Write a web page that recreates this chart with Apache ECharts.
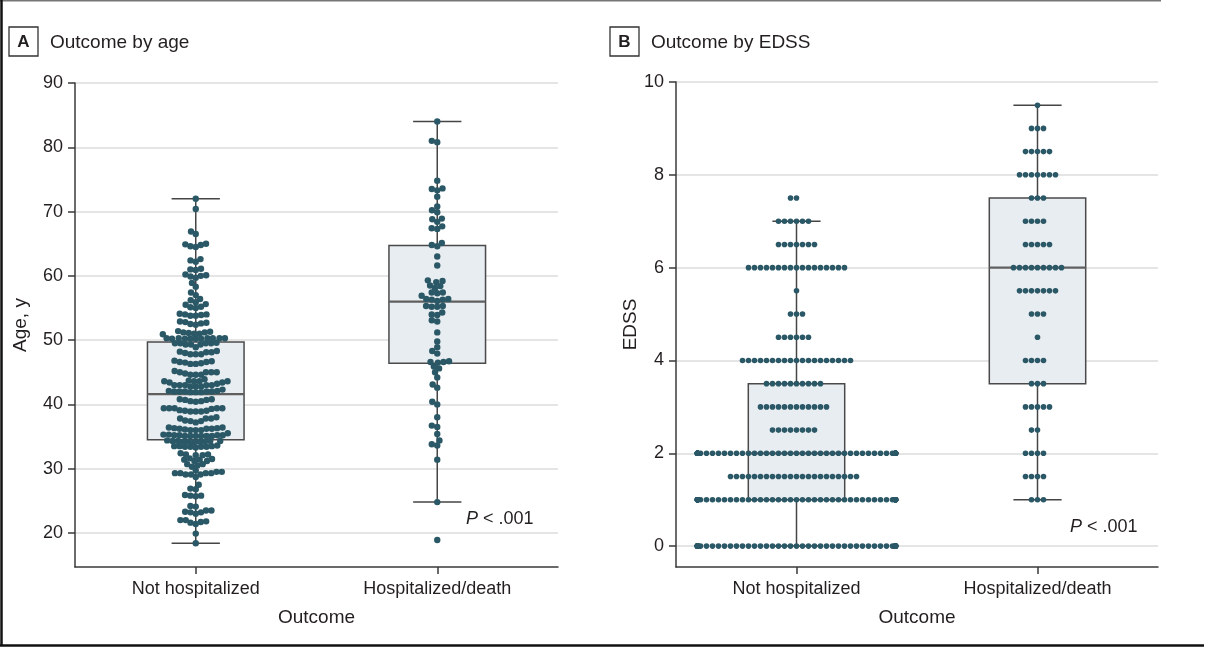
<!DOCTYPE html>
<html>
<head>
<meta charset="utf-8">
<script src="https://cdn.jsdelivr.net/npm/echarts@6/dist/echarts.min.js"></script>
<style>html,body{margin:0;padding:0;background:#fff}#c{width:1216px;height:649px}</style>
</head>
<body>
<div id="c"></div>
<script>
// ---------------- DATA ----------------
const categories = ['Not hospitalized', 'Hospitalized/death'];

// Panel A: ages (years)
const ageNotHosp = [
  72.0, 70.4, 66.9, 66.5, 64.9, 64.6, 64.5, 64.8, 65.0, 62.6, 62.2, 62.4, 61.1, 60.9, 61.0,
  60.0, 59.7, 59.9, 60.1, 60.2, 58.9, 58.3, 57.4, 57.0, 56.4, 56.2,
  55.6, 55.5, 55.9, 55.2, 55.1, 55.0, 54.0, 53.9, 53.8, 53.8, 54.1, 54.0,
  52.9, 52.8, 52.4, 52.6, 52.7, 52.5, 51.4, 51.2, 51.0, 51.1, 51.2, 51.3, 51.0, 50.9,
  50.3, 50.2, 50.3, 50.2, 50.3, 50.2, 50.3, 50.3, 50.2, 50.2, 50.3,
  49.5, 49.3, 49.5, 49.5, 49.3, 49.5, 49.6, 49.3, 48.9,
  48.2, 47.8, 48.1, 48.1, 47.8, 48.0, 48.3, 47.8,
  46.7, 46.4, 46.6, 46.8, 46.6, 46.5, 46.3, 46.3,
  44.6, 44.6, 45.2, 45.0, 44.8, 45.0, 45.0, 45.0, 44.6,
  43.9, 43.6, 43.6, 43.4, 43.4, 43.6, 43.6, 43.7,
  43.0, 42.8, 43.0, 42.8, 43.0, 42.8, 43.0, 43.0, 43.2,
  42.3, 42.1, 41.9, 41.9, 41.9, 42.0, 42.0, 42.0, 42.0, 42.0, 42.1,
  40.8, 40.7, 40.5, 40.4, 40.5, 40.7, 40.8,
  39.4, 39.4, 39.0, 38.9, 39.0, 39.1, 38.9, 38.9, 39.3, 39.4, 39.4, 39.4,
  37.8, 37.4, 37.8, 38.0, 37.5, 37.8, 37.2, 37.4,
  36.2, 36.0, 36.4, 36.3, 36.2, 36.2, 36.3, 36.4, 36.0, 36.0, 36.1,
  35.5, 35.3, 35.1, 35.2, 35.2, 35.1, 35.1, 35.2, 35.1, 35.3, 35.1, 35.1, 35.2,
  34.3, 34.2, 34.3, 34.4, 34.2, 34.3, 34.1, 34.2, 34.3, 34.2,
  33.5, 33.4, 33.3, 33.5, 33.4, 33.4, 33.4, 33.6, 33.5,
  32.4, 32.2, 32.1, 32.2, 32.1,
  31.2, 31.6, 31.4, 31.5, 31.2, 31.4,
  30.5, 30.3, 30.7, 30.7,
  29.3, 29.3, 29.1, 29.7, 29.3, 29.5, 29.1, 29.5, 28.7, 29.1, 29.3,
  27.5, 26.8, 26.9, 25.7, 25.9, 25.8, 25.8, 24.2, 24.1,
  23.5, 23.2, 23.0, 23.2, 23.3, 23.5,
  22.0, 21.6, 21.4, 21.7, 21.8, 22.0,
  19.9, 18.4
];
const ageHosp = [
  84.0, 81.0, 80.8, 74.8, 73.6, 73.3, 73.5, 72.3, 70.8, 70.2, 69.9, 68.8, 68.4, 68.9,
  67.4, 67.3, 67.7, 65.1, 64.8, 64.6, 63.0, 61.6, 59.2, 59.0, 59.3, 58.4, 58.1, 58.5,
  57.4, 57.3, 57.4, 56.9, 56.4, 56.1, 56.3, 56.4, 56.3, 55.3, 55.2, 55.2, 55.3,
  54.3, 54.0, 53.9, 53.1, 52.9, 51.2, 49.8, 48.9, 48.3, 47.9, 46.7, 46.6, 46.5, 46.6,
  45.9, 45.6, 45.0, 44.2, 43.1, 42.6, 40.4, 40.0, 38.0, 36.7, 36.5, 35.4, 34.4, 33.8,
  33.6, 31.4, 24.8, 18.9
];
// box statistics: [min whisker, Q1, median, Q3, max whisker]
const ageBoxNotHosp = [18.4, 34.5, 41.6, 49.7, 72.0];
const ageBoxHosp = [24.8, 46.4, 56.0, 64.7, 84.0];

// Panel B: EDSS, number of patients at each EDSS level
const edssLevels        = [0, 1, 1.5, 2, 2.5, 3, 3.5, 4, 4.5, 5, 5.5, 6, 6.5, 7, 7.5, 8, 8.5, 9, 9.5];
const edssCountNotHosp  = [54, 54, 22, 53, 8, 12, 10, 19, 6, 3, 1, 17, 7, 6, 2, 0, 0, 0, 0];
const edssCountHosp     = [0, 3, 4, 4, 2, 5, 3, 4, 1, 3, 7, 9, 5, 4, 3, 7, 5, 3, 1];
const edssBoxNotHosp = [0, 1.0, 2.0, 3.5, 7.0];
const edssBoxHosp = [1.0, 3.5, 6.0, 7.5, 9.5];

// tick labels
const ageTicks = [20, 30, 40, 50, 60, 70, 80, 90];
const edssTicks = [0, 2, 4, 6, 8, 10];

// -------------- BUILD ----------------
function expand(levels, counts) {
  const out = [];
  levels.forEach((v, i) => { for (let k = 0; k < counts[i]; k++) out.push(v); });
  return out;
}
const edssNotHosp = expand(edssLevels, edssCountNotHosp);
const edssHosp = expand(edssLevels, edssCountHosp);

const FONT = 'Liberation Sans';
const TXT = '#231f20';
const AX = '#3a3a3a';
const DOT = '#2b5866';

const chart = echarts.init(document.getElementById('c'), null, { renderer: 'canvas' });

function catAxis(gi) {
  return {
    type: 'category', gridIndex: gi, data: categories,
    name: 'Outcome', nameLocation: 'middle', nameGap: 41,
    nameTextStyle: { fontFamily: FONT, fontSize: 19, color: TXT },
    axisLine: { onZero: false, lineStyle: { color: AX, width: 1.5 } },
    axisTick: { show: true, alignWithLabel: true, length: 7, lineStyle: { color: AX, width: 1.5 } },
    axisLabel: { fontFamily: FONT, fontSize: 18, color: TXT, margin: 13 },
    splitLine: { show: false }
  };
}
function valXAxis(gi) {
  return { type: 'value', gridIndex: gi, min: -0.5, max: 1.5, show: false, axisLine: { onZero: false } };
}
function valYAxis(gi, min, max, ticks, name, gap) {
  return {
    type: 'value', gridIndex: gi, min: min, max: max,
    name: name, nameLocation: 'middle', nameGap: gap,
    nameTextStyle: { fontFamily: FONT, fontSize: 19, color: TXT },
    axisLine: { show: true, onZero: false, lineStyle: { color: AX, width: 1.5 } },
    axisTick: { show: true, length: 7, customValues: ticks, lineStyle: { color: AX, width: 1.5 } },
    axisLabel: { fontFamily: FONT, fontSize: 18, color: TXT, margin: 12, customValues: ticks },
    splitLine: { show: false }
  };
}

function boxSeries(xi, yi, boxes) {
  return {
    type: 'custom', xAxisIndex: xi, yAxisIndex: yi, z: 2,
    data: boxes.map((b, i) => [i].concat(b)),
    encode: { x: 0, y: [1, 2, 3, 4, 5] },
    renderItem: function (params, api) {
      const x = api.value(0);
      const band = api.size([1, 0])[0];
      const hw = band * 0.2, cw = band * 0.1;
      const pMin = api.coord([x, api.value(1)]);
      const pQ1 = api.coord([x, api.value(2)]);
      const pMed = api.coord([x, api.value(3)]);
      const pQ3 = api.coord([x, api.value(4)]);
      const pMax = api.coord([x, api.value(5)]);
      const cx = pMed[0];
      const ls = { stroke: '#454545', lineWidth: 1.5 };
      return {
        type: 'group',
        children: [
          { type: 'line', shape: { x1: cx, y1: pQ3[1], x2: cx, y2: pMax[1] }, style: ls },
          { type: 'line', shape: { x1: cx, y1: pQ1[1], x2: cx, y2: pMin[1] }, style: ls },
          { type: 'line', shape: { x1: cx - cw, y1: pMax[1], x2: cx + cw, y2: pMax[1] }, style: ls },
          { type: 'line', shape: { x1: cx - cw, y1: pMin[1], x2: cx + cw, y2: pMin[1] }, style: ls },
          { type: 'rect', shape: { x: cx - hw, y: pQ3[1], width: 2 * hw, height: pQ1[1] - pQ3[1] },
            style: { fill: '#e8edf1', stroke: '#4a4a4a', lineWidth: 1.5 } },
          { type: 'line', shape: { x1: cx - hw, y1: pMed[1], x2: cx + hw, y2: pMed[1] },
            style: { stroke: '#5f5f5f', lineWidth: 2.2 } }
        ]
      };
    }
  };
}

function gridSeries(xi, yi, ticks) {
  return {
    type: 'scatter', xAxisIndex: xi, yAxisIndex: yi, data: [], z: 0, silent: true,
    markLine: {
      silent: true, symbol: 'none', z: 0, animation: false,
      label: { show: false },
      lineStyle: { color: '#dcdcdc', width: 1.5, type: 'solid' },
      data: ticks.map(t => ({ yAxis: t }))
    }
  };
}

function dotSeries(xi, yi, size) {
  return { type: 'scatter', xAxisIndex: xi, yAxisIndex: yi, symbolSize: size, z: 5,
           itemStyle: { color: DOT, opacity: 1 }, data: [] };
}

const groups = [
  { values: ageNotHosp, cat: 0, xi: 1, yi: 0, d: 5.4, half: 1000 },
  { values: ageHosp, cat: 1, xi: 1, yi: 0, d: 5.6, half: 1000 },
  { values: edssNotHosp, cat: 0, xi: 3, yi: 1, d: 6.0, half: 99 },
  { values: edssHosp, cat: 1, xi: 3, yi: 1, d: 6.0, half: 99 }
];

const option = {
  animation: false,
  backgroundColor: '#fff',
  grid: [
    { left: 75, top: 83, width: 483, height: 484 },
    { left: 676, top: 82, width: 482, height: 485 }
  ],
  xAxis: [catAxis(0), valXAxis(0), catAxis(1), valXAxis(1)],
  yAxis: [
    valYAxis(0, 14.7, 90, ageTicks, 'Age, y', 45),
    valYAxis(1, -0.45, 10, edssTicks, 'EDSS', 35)
  ],
  series: [
    gridSeries(1, 0, ageTicks),
    gridSeries(3, 1, edssTicks),
    boxSeries(0, 0, [ageBoxNotHosp, ageBoxHosp]),
    boxSeries(2, 1, [edssBoxNotHosp, edssBoxHosp]),
    dotSeries(1, 0, 6.4), dotSeries(1, 0, 6.4),
    dotSeries(3, 1, 5.6), dotSeries(3, 1, 5.6)
  ],
  graphic: [
    // outer frame
    { type: 'line', shape: { x1: 0, y1: 0.75, x2: 1161, y2: 0.75 }, style: { stroke: '#777', lineWidth: 1.5 } },
    { type: 'line', shape: { x1: 1.5, y1: 0, x2: 1.5, y2: 646 }, style: { stroke: '#111', lineWidth: 2.5 } },
    { type: 'line', shape: { x1: 0, y1: 645.5, x2: 1204, y2: 645.5 }, style: { stroke: '#111', lineWidth: 2.5 } },
    // panel labels
    { type: 'rect', shape: { x: 9, y: 27, width: 29, height: 29 }, style: { fill: '#fff', stroke: '#333', lineWidth: 1.3 } },
    { type: 'text', x: 23.5, y: 42, style: { text: 'A', font: 'bold 17px ' + FONT, fill: TXT, align: 'center', verticalAlign: 'middle' } },
    { type: 'text', x: 50, y: 43, style: { text: 'Outcome by age', font: '19px ' + FONT, fill: TXT, align: 'left', verticalAlign: 'middle' } },
    { type: 'rect', shape: { x: 610, y: 27, width: 29, height: 29 }, style: { fill: '#fff', stroke: '#333', lineWidth: 1.3 } },
    { type: 'text', x: 624.5, y: 42, style: { text: 'B', font: 'bold 17px ' + FONT, fill: TXT, align: 'center', verticalAlign: 'middle' } },
    { type: 'text', x: 651, y: 43, style: { text: 'Outcome by EDSS', font: '19px ' + FONT, fill: TXT, align: 'left', verticalAlign: 'middle' } },
    // P values
    { type: 'text', x: 466, y: 519, style: { text: '{i|P} < .001', font: '18px ' + FONT, fill: TXT, verticalAlign: 'middle',
        rich: { i: { fontStyle: 'italic', fontFamily: FONT, fontSize: 18, fill: TXT } } } },
    { type: 'text', x: 1070, y: 527, style: { text: '{i|P} < .001', font: '18px ' + FONT, fill: TXT, verticalAlign: 'middle',
        rich: { i: { fontStyle: 'italic', fontFamily: FONT, fontSize: 18, fill: TXT } } } }
  ]
};
chart.setOption(option);

// ---------- beeswarm layout through the axes' own scales ----------
function swarm(ys, d, maxHalf) {
  const placed = [], out = [];
  const d2 = d * d - 1e-6;
  for (const y of ys) {
    const cands = [0];
    for (const p of placed) {
      const dy = Math.abs(p.y - y);
      if (dy < d) { const dx = Math.sqrt(d * d - dy * dy); cands.push(p.x - dx, p.x + dx); }
    }
    cands.sort((a, b) => (Math.abs(a) - Math.abs(b)) || (a - b));
    let chosen = 0;
    for (const c of cands) {
      let ok = true;
      for (const p of placed) {
        const dx = p.x - c, dy = p.y - y;
        if (dx * dx + dy * dy < d2) { ok = false; break; }
      }
      if (ok) { chosen = c; break; }
    }
    placed.push({ x: chosen, y: y });
    out.push(Math.max(-maxHalf, Math.min(maxHalf, chosen)));
  }
  return out;
}

const dotData = groups.map(g => {
  const sorted = g.values.slice().sort((a, b) => a - b);
  const ys = sorted.map(v => chart.convertToPixel({ yAxisIndex: g.yi }, v));
  const cx = chart.convertToPixel({ xAxisIndex: g.xi }, g.cat);
  const offs = swarm(ys, g.d, g.half);
  return sorted.map((v, i) => [chart.convertFromPixel({ xAxisIndex: g.xi }, cx + offs[i]), v]);
});
chart.setOption({
  series: [{}, {}, {}, {}, { data: dotData[0] }, { data: dotData[1] }, { data: dotData[2] }, { data: dotData[3] }]
});
</script>
</body>
</html>
